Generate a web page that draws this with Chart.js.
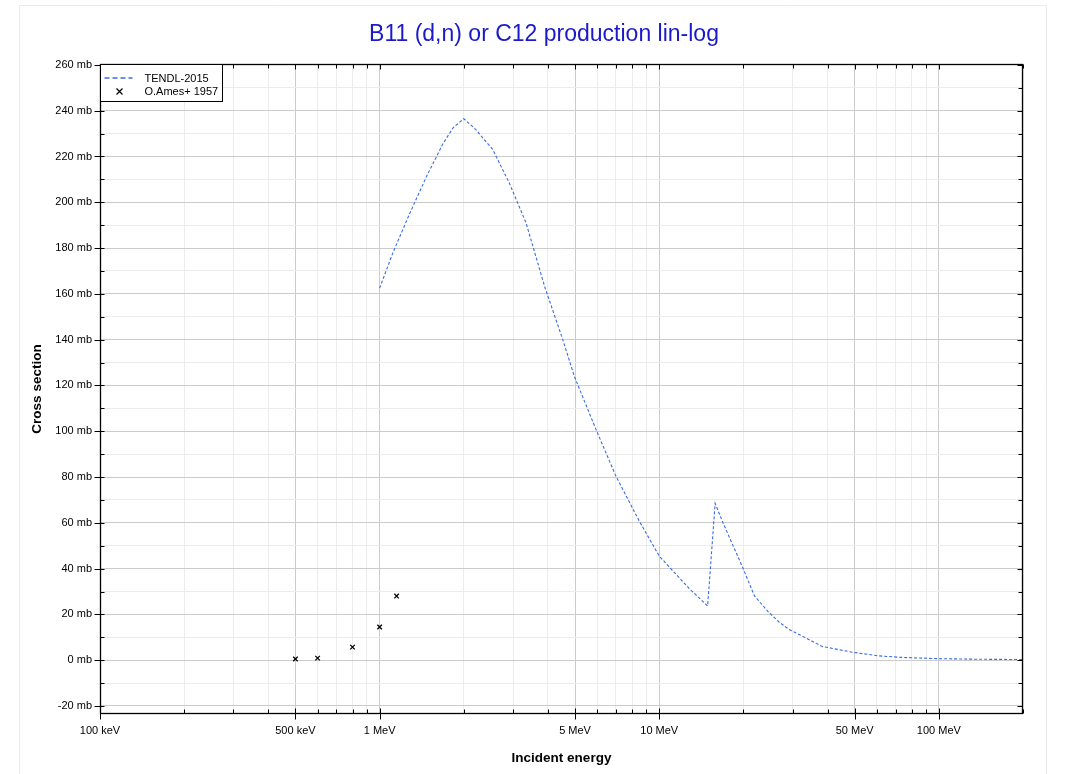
<!DOCTYPE html>
<html>
<head>
<meta charset="utf-8">
<title>B11 (d,n) or C12 production lin-log</title>
<script src="https://cdn.jsdelivr.net/npm/chart.js@4.4.1/dist/chart.umd.min.js"></script>
<style>
  html, body { margin: 0; padding: 0; background: #fff; }
  canvas { display: block; }
</style>
</head>
<body>
<canvas id="chart" width="1071" height="774"></canvas>
<script>
// TENDL-2015 evaluation (energy in MeV, cross section in mb)
const tendlEnergy = [1.0, 1.116, 1.28, 1.468, 1.683, 1.83, 2.0, 2.21, 2.54, 2.91, 3.34, 3.89, 4.52, 4.97, 5.94, 7.0, 8.48, 10.0,
    12.8, 14.9, 15.85, 16.8, 19.9, 21.9, 24.7, 26.8, 29.1, 38.3, 49, 60.8, 74.2, 98.6, 139, 200];
const tendlXs = [162.5, 178, 195, 211, 225.5, 232.5, 236.5, 231.7, 223, 208.4, 191, 163.3, 140, 124, 100.8, 80.4, 60.8, 45.5,
    31.3, 23.7, 68.5, 60.8, 40.4, 28.1, 20.8, 16.7, 13.5, 6.0, 3.5, 1.9, 1.2, 0.7, 0.4, 0.3];

// O.Ames+ 1957 measurement
const amesEnergy = [0.5, 0.6, 0.8, 1.0, 1.15];
const amesXs = [0.5, 0.9, 5.7, 14.5, 28];

// axis ticks
const xTickValues = [0.1, 0.2, 0.3, 0.4, 0.5, 0.6, 0.7, 0.8, 0.9,
    1, 2, 3, 4, 5, 6, 7, 8, 9,
    10, 20, 30, 40, 50, 60, 70, 80, 90,
    100, 200];
const xLabelValues = [0.1, 0.5, 1, 5, 10, 50, 100];
const xLabelTexts = ["100 keV", "500 keV", "1 MeV", "5 MeV", "10 MeV", "50 MeV", "100 MeV"];
const yTickValues = [];
for (let v = -20; v <= 260; v += 10) yTickValues.push(v);

const FONT = 'Arial, "Liberation Sans", Helvetica, sans-serif';
const majorGrid = "#cccccc";
const minorGrid = "#ececec";
const isXMajor = v => xLabelValues.includes(v);
const isYMajor = v => v % 20 === 0;

const frame = {
    id: "frame",
    beforeDraw(chart) {
        const ctx = chart.ctx;
        ctx.save();
        ctx.fillStyle = "#fff";
        ctx.fillRect(0, 0, chart.width, chart.height);
        ctx.strokeStyle = "#ebebeb";
        ctx.lineWidth = 1;
        ctx.beginPath();
        ctx.moveTo(19.5, chart.height);
        ctx.lineTo(19.5, 5.5);
        ctx.lineTo(1046.5, 5.5);
        ctx.lineTo(1046.5, chart.height);
        ctx.stroke();
        // title
        ctx.fillStyle = "#1a1acc";
        ctx.font = "23px " + FONT;
        ctx.textAlign = "center";
        ctx.textBaseline = "middle";
        ctx.fillText("B11 (d,n) or C12 production lin-log", 544, 35);
        ctx.restore();
    },
    afterDraw(chart) {
        const ctx = chart.ctx;
        const a = chart.chartArea;
        const xs = chart.scales.x, ys = chart.scales.y;
        const L = Math.round(a.left) + 0.5, R = Math.round(a.right) - 0.5;
        const T = Math.round(a.top) + 0.5, B = Math.round(a.bottom) - 0.5;
        ctx.save();
        ctx.strokeStyle = "#000";
        ctx.lineWidth = 1;
        ctx.beginPath();
        xTickValues.forEach(v => {
            const px = Math.round(xs.getPixelForValue(v)) + 0.5;
            if (px < L - 1 || px > R + 1) return;
            const maj = isXMajor(v);
            ctx.moveTo(px, B + (maj ? 6 : 0));
            ctx.lineTo(px, B - (maj ? 5 : 4));
            ctx.moveTo(px, T);
            ctx.lineTo(px, T + (maj ? 5 : 4));
        });
        yTickValues.forEach(v => {
            const py = Math.round(ys.getPixelForValue(v)) + 0.5;
            const maj = isYMajor(v);
            ctx.moveTo(L - (maj ? 6 : 0), py);
            ctx.lineTo(L + 4, py);
            ctx.moveTo(R, py);
            ctx.lineTo(R - (maj ? 5 : 4), py);
        });
        ctx.stroke();
        ctx.lineWidth = 1.3;
        ctx.strokeRect(L, T, R - L, B - T);

        // legend
        ctx.lineWidth = 1;
        ctx.fillStyle = "#fff";
        ctx.fillRect(L, T, 122, 37);
        ctx.strokeRect(L, T, 122, 37);
        ctx.strokeStyle = "#3a6be6";
        ctx.lineWidth = 1.6;
        ctx.setLineDash([5, 3]);
        ctx.beginPath();
        ctx.moveTo(L + 4, T + 13.5);
        ctx.lineTo(L + 32, T + 13.5);
        ctx.stroke();
        ctx.setLineDash([]);
        ctx.strokeStyle = "#000";
        ctx.lineWidth = 1.2;
        ctx.beginPath();
        ctx.moveTo(L + 16, T + 24);
        ctx.lineTo(L + 22, T + 30);
        ctx.moveTo(L + 22, T + 24);
        ctx.lineTo(L + 16, T + 30);
        ctx.stroke();
        ctx.fillStyle = "#000";
        ctx.font = "11px " + FONT;
        ctx.textAlign = "left";
        ctx.textBaseline = "middle";
        ctx.fillText("TENDL-2015", L + 44, T + 14);
        ctx.fillText("O.Ames+ 1957", L + 44, T + 27);
        ctx.restore();
    }
};

const chart = new Chart(document.getElementById("chart"), {
    type: "line",
    data: {
        datasets: [
            {
                label: "TENDL-2015",
                data: tendlEnergy.map((e, i) => ({ x: e, y: tendlXs[i] })),
                borderColor: "#3a6be6",
                borderWidth: 1.1,
                borderDash: [3, 2],
                pointRadius: 0,
                tension: 0,
                fill: false,
            },
            {
                label: "O.Ames+ 1957",
                data: amesEnergy.map((e, i) => ({ x: e, y: amesXs[i] })),
                showLine: false,
                pointStyle: "crossRot",
                pointRadius: 3.2,
                borderColor: "#000",
                backgroundColor: "#000",
                borderWidth: 1.3,
            },
        ],
    },
    options: {
        responsive: false,
        animation: false,
        events: [],
        layout: { padding: { top: 64, right: 48, bottom: 0, left: 0 } },
        plugins: {
            legend: { display: false },
            title: { display: false },
            tooltip: { enabled: false },
        },
        scales: {
            x: {
                type: "logarithmic",
                min: 0.1,
                max: 200,
                afterBuildTicks: s => { s.ticks = xTickValues.map(v => ({ value: v })); },
                afterFit: s => { s.height = 60; },
                border: { display: false },
                grid: {
                    drawTicks: false,
                    lineWidth: 1,
                    color: c => (c.tick && isXMajor(c.tick.value) ? majorGrid : minorGrid),
                },
                ticks: {
                    autoSkip: false,
                    maxRotation: 0,
                    minRotation: 0,
                    padding: 10,
                    color: "#000",
                    font: { family: FONT, size: 11 },
                    callback: v => {
                        const i = xLabelValues.indexOf(v);
                        return i >= 0 ? xLabelTexts[i] : "";
                    },
                },
                title: {
                    display: true,
                    text: "Incident energy",
                    color: "#000",
                    font: { family: FONT, size: 13.5, weight: "bold" },
                    padding: { top: 0, bottom: 8 },
                },
            },
            y: {
                type: "linear",
                min: -23.5,
                max: 260.4,
                afterBuildTicks: s => { s.ticks = yTickValues.map(v => ({ value: v })); },
                afterFit: s => { s.width = 100; },
                border: { display: false },
                grid: {
                    drawTicks: false,
                    lineWidth: 1,
                    color: c => (c.tick && isYMajor(c.tick.value) ? majorGrid : minorGrid),
                },
                ticks: {
                    autoSkip: false,
                    padding: 8,
                    color: "#000",
                    font: { family: FONT, size: 11 },
                    callback: v => (isYMajor(v) ? v + " mb" : ""),
                },
                title: {
                    display: true,
                    text: "Cross section",
                    color: "#000",
                    font: { family: FONT, size: 13.5, weight: "bold" },
                    padding: { top: 29, bottom: 0 },
                },
            },
        },
    },
    plugins: [frame],
});
</script>
</body>
</html>
